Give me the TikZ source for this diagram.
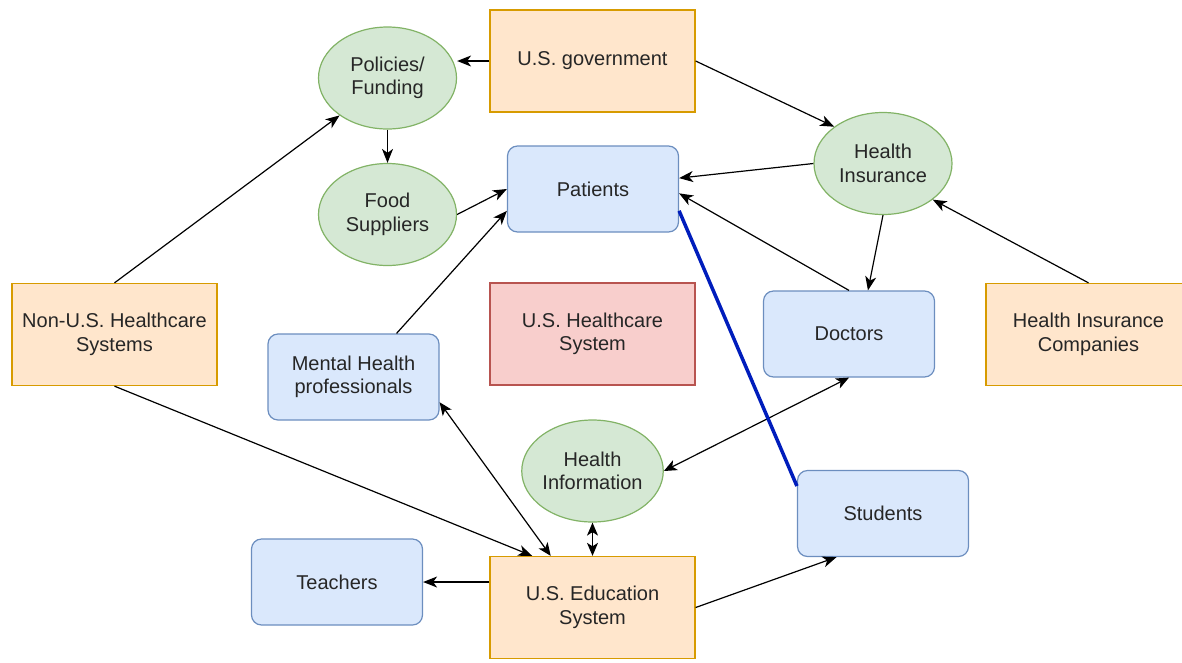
\documentclass[tikz,border=0pt]{standalone}
\usepackage{fontspec}
\setmainfont{Liberation Sans}
\usepackage{xcolor}
\usetikzlibrary{positioning,shapes,calc,arrows.meta}

\definecolor{orfill}{HTML}{FFE6CC}
\definecolor{ordraw}{HTML}{D79B00}
\definecolor{grfill}{HTML}{D5E8D4}
\definecolor{grdraw}{HTML}{82B366}
\definecolor{blfill}{HTML}{DAE8FC}
\definecolor{bldraw}{HTML}{6C8EBF}
\definecolor{rdfill}{HTML}{F8CECC}
\definecolor{rddraw}{HTML}{B85450}
\definecolor{linkblue}{HTML}{001DBC}

\begin{document}
\begin{tikzpicture}[x=1pt,y=-1pt,
  every node/.style={font=\fontsize{20}{23.5}\selectfont,align=center,text=black!85,inner sep=0pt},
  actor/.style={draw=ordraw,fill=orfill,line width=1.3pt,minimum width=205pt,minimum height=102pt},
  topic/.style={ellipse,draw=grdraw,fill=grfill,line width=1.2pt,minimum width=138pt,minimum height=102pt},
  group/.style={rounded corners=10pt,draw=bldraw,fill=blfill,line width=1.2pt,minimum width=171pt,minimum height=86pt},
  hub/.style={draw=rddraw,fill=rdfill,line width=1.2pt,minimum width=205pt,minimum height=102pt},
  arr/.style={-{Stealth[length=14pt,width=11pt,inset=4pt]},line width=1.2pt},
  darr/.style={{Stealth[length=13pt,width=11pt,inset=3.5pt]}-{Stealth[length=13pt,width=11pt,inset=3.5pt]},line width=1.2pt}]
\useasboundingbox (0,0) rectangle (1182,662);
\clip (0,0) rectangle (1182,662);

\node[actor] (gov) at (592.5,61) {U.S. government};
\node[topic] (pol) at (387.5,78) {Policies/\\Funding};
\node[topic] (food) at (387.5,214.5) {Food\\Suppliers};
\node[group] (pat) at (593,189) {Patients};
\node[topic] (hi) at (883,163.5) {Health\\Insurance};
\node[actor] (nonus) at (114.5,334.5) {Non-U.S. Healthcare\\Systems};
\node[hub] (ushc) at (592.5,334) {U.S. Healthcare\\System};
\node[group] (doc) at (849,334) {Doctors};
\node[actor] (hic) at (1088.5,334.5) {Health Insurance\\Companies};
\node[group] (mh) at (353.5,377) {Mental Health\\professionals};
\node[topic] (hinf) at (592.5,471) {Health\\Information};
\node[group] (stu) at (883,513.5) {Students};
\node[group] (teach) at (337,582) {Teachers};
\node[actor] (ed) at (592.5,607.5) {U.S. Education\\System};

\draw[arr] (gov.west) -- (pol.east |- gov.west);
\draw[arr] (gov.east) -- (hi.143);
\draw[arr] (pol) -- (food);
\draw[arr] (food.east) -- (pat.west);
\draw[arr] (hi.west) -- ($(pat.east)!0.25!(pat.north east)$);
\draw[arr] (doc.north) -- ($(pat.east)!0.1!(pat.south east)$);
\draw[arr] (hi.south) -- ($(doc.north)!0.22!(doc.north east)$);
\draw[arr] (hic.north) -- (hi.-36);
\draw[arr] (nonus.north) -- (pol.218);
\draw[arr] (nonus.south) -- ($(ed.north)!0.585!(ed.north west)$);
\draw[arr] ($(mh.north)!0.5!(mh.north east)$) -- ($(pat.west)!0.5!(pat.south west)$);
\draw[darr] ($(mh.east)!0.58!(mh.south east)$) -- ($(ed.north)!0.405!(ed.north west)$);
\draw[darr] (hinf.east) -- (doc.south);
\draw[darr] (hinf.south) -- (ed.north);
\draw[arr] (ed.west |- teach.east) -- (teach.east);
\draw[arr] (ed.east) -- ($(stu.south)!0.54!(stu.south west)$);
\draw[linkblue,line width=3.5pt] ($(pat.east)!0.5!(pat.south east)$) -- ($(stu.north west)!0.37!(stu.west)$);
\end{tikzpicture}
\end{document}
